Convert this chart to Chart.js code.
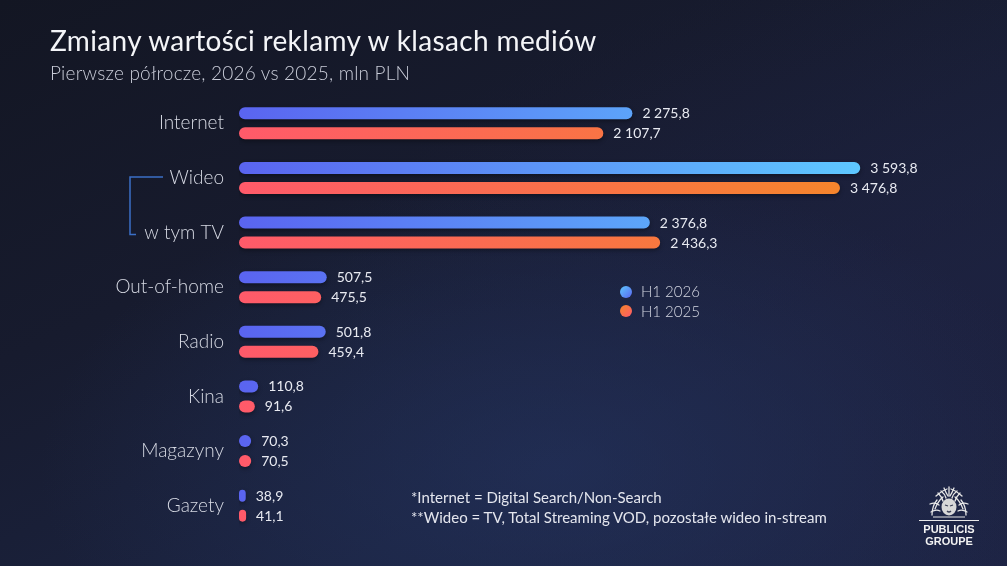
<!DOCTYPE html>
<html lang="pl">
<head>
<meta charset="utf-8">
<title>Zmiany wartości reklamy w klasach mediów</title>
<script src="https://cdn.jsdelivr.net/npm/chart.js@4.4.1/dist/chart.umd.min.js"></script>
<style>
  html, body { margin: 0; padding: 0; }
  body {
    width: 1007px; height: 566px; overflow: hidden; position: relative;
    font-family: Lato, "Open Sans", sans-serif;
    background:
      radial-gradient(ellipse 520px 300px at 560px 470px, rgba(36,52,96,0.6), rgba(36,52,96,0) 100%),
      radial-gradient(ellipse 600px 360px at 930px 330px, rgba(30,32,62,0.6), rgba(30,32,62,0) 100%),
      linear-gradient(155deg, #131623 0%, #171b2e 35%, #1b2340 70%, #1d2444 100%);
  }
  #wrap { position: absolute; left: 0; top: 0; width: 1007px; height: 566px; }
  .title { position: absolute; left: 50px; top: 23px; font-size: 28px; color: #f4f5f8; font-weight: 400; letter-spacing: 0.35px; }
  .subtitle { position: absolute; left: 50px; top: 61px; font-size: 19px; color: #c9ccd8; font-weight: 300; letter-spacing: 0.2px; }
  .legend { position: absolute; left: 620px; top: 282px; font-size: 15px; color: #d4d7e2; line-height: 19.5px; font-weight: 300; }
  .legend div { display: flex; align-items: center; }
  .legend span.dot { width: 12px; height: 12px; border-radius: 50%; margin-right: 9px; display: inline-block; }
  .notes { position: absolute; left: 411px; top: 487px; font-size: 15px; color: #e4e6ee; line-height: 20px; }
  .logo { position: absolute; left: 916px; top: 486px; width: 66px; text-align: center; color: #f2f2f2;
          font-family: "Liberation Sans", Arial, sans-serif; font-weight: bold; font-size: 11px; line-height: 12px; }
  .logo .rule { height: 1px; background: #e8e8e8; margin: 0 3px 2px 3px; }
</style>
</head>
<body>
<div id="wrap"><canvas id="chart" width="1007" height="566"></canvas></div>
<div class="title">Zmiany wartości reklamy w klasach mediów</div>
<div class="subtitle">Pierwsze półrocze, 2026 vs 2025, mln PLN</div>
<div class="legend">
  <div><span class="dot" style="background:linear-gradient(135deg,#5ec8ff,#5a66f0)"></span>H1 2026</div>
  <div><span class="dot" style="background:linear-gradient(135deg,#f5862a,#ff5a6a)"></span>H1 2025</div>
</div>
<div class="notes">
  <div>*Internet = Digital Search/Non-Search</div>
  <div>**Wideo = TV, Total Streaming VOD, pozostałe wideo in-stream</div>
</div>
<div class="logo">
  <svg width="42" height="32" viewBox="-21 -20 42 32">
    <g stroke="#e6e6e6" stroke-width="1.3" fill="none" stroke-linecap="round">
      <path d="M-17 9 Q-17 0 -12 -6"/><path d="M-13 -10 Q-8 -15 -2 -17"/><path d="M2 -17 Q8 -15 13 -10"/>
      <path d="M12 -6 Q17 0 17 9"/><path d="M-14 3 Q-11 -5 -6 -9"/><path d="M6 -9 Q11 -5 14 3"/>
      <path d="M-8 -15 Q-4 -12 -3 -8"/><path d="M8 -15 Q4 -12 3 -8"/><path d="M-19 -2 Q-14 -4 -10 -1"/>
      <path d="M19 -2 Q14 -4 10 -1"/><path d="M0 -19 L0 -10"/><path d="M-5 -18 Q-3 -13 -1 -10"/>
      <path d="M5 -18 Q3 -13 1 -10"/><path d="M-18 6 Q-13 3 -9 5"/><path d="M18 6 Q13 3 9 5"/>
      <path d="M-11 -13 Q-7 -9 -6 -5"/><path d="M11 -13 Q7 -9 6 -5"/>
    </g>
    <ellipse cx="0" cy="1" rx="7.5" ry="8.5" fill="#d8d8d8"/>
    <path d="M-4 -1 L-1 0 M4 -1 L1 0 M-2 5 Q0 7 2 5" stroke="#3a3f55" stroke-width="1.3" fill="none"/>
    <path d="M-16 11 L16 11" stroke="#e6e6e6" stroke-width="1"/>
  </svg>
  <div class="rule"></div>
  <div>PUBLICIS</div>
  <div>GROUPE</div>
</div>

<script>
// kategorie i wartości (mln PLN)
const categories = ['Internet', 'Wideo', 'w tym TV', 'Out-of-home', 'Radio', 'Kina', 'Magazyny', 'Gazety'];
const h1_2026 = [2275.8, 3593.8, 2376.8, 507.5, 501.8, 110.8, 70.3, 38.9];
const h1_2025 = [2107.7, 3476.8, 2436.3, 475.5, 459.4, 91.6, 70.5, 41.1];
const seriesLabels = ['H1 2026', 'H1 2025'];

const blueStops = ['#5a64f0', '#5ec8ff'];
const redStops = ['#ff5a6a', '#f5862a'];

// format "2 275,8"
function fmt(v) {
  const parts = v.toFixed(1).split('.');
  const int = parts[0].replace(/\B(?=(\d{3})+(?!\d))/g, ' ');
  return int + ',' + parts[1];
}

function barGradient(stops) {
  return (context) => {
    const chart = context.chart;
    const { ctx, chartArea, scales } = chart;
    if (!chartArea) return stops[0];
    const x0 = scales.x.getPixelForValue(0);
    const x1 = scales.x.getPixelForValue(3600);
    const g = ctx.createLinearGradient(x0, 0, x1, 0);
    g.addColorStop(0, stops[0]);
    g.addColorStop(1, stops[1]);
    return g;
  };
}

// etykiety wartości przy końcach słupków
const valueLabels = {
  id: 'valueLabels',
  afterDatasetsDraw(chart) {
    const ctx = chart.ctx;
    ctx.save();
    ctx.font = '400 14px Lato, sans-serif';
    ctx.fillStyle = '#e8eaf1';
    ctx.textBaseline = 'middle';
    ctx.textAlign = 'left';
    chart.data.datasets.forEach((ds, i) => {
      chart.getDatasetMeta(i).data.forEach((bar, j) => {
        ctx.fillText(fmt(ds.data[j]), bar.x + 10, bar.y + 0.5);
      });
    });
    ctx.restore();
  }
};

// klamra łącząca Wideo i "w tym TV"
const bracket = {
  id: 'bracket',
  afterDraw(chart) {
    const { ctx, chartArea, scales } = chart;
    const yTop = scales.y.getPixelForValue(1) - 1;
    const yBot = scales.y.getPixelForValue(2) + 2;
    const xv = chartArea.left - 109;
    ctx.save();
    ctx.strokeStyle = '#3b6fc6';
    ctx.lineWidth = 1.5;
    ctx.beginPath();
    ctx.moveTo(xv + 33, yTop);
    ctx.lineTo(xv, yTop);
    ctx.lineTo(xv, yBot);
    ctx.lineTo(xv + 6, yBot);
    ctx.stroke();
    ctx.restore();
  }
};

// lekki cień pod słupkami
const barShadow = {
  id: 'barShadow',
  beforeDatasetsDraw(chart) {
    chart.ctx.save();
    chart.ctx.shadowColor = 'rgba(0,0,0,0.35)';
    chart.ctx.shadowBlur = 4;
    chart.ctx.shadowOffsetY = 2;
  },
  afterDatasetsDraw(chart) {
    chart.ctx.restore();
  }
};

const ctx = document.getElementById('chart').getContext('2d');
new Chart(ctx, {
  type: 'bar',
  data: {
    labels: categories,
    datasets: [
      {
        label: seriesLabels[0],
        data: h1_2026,
        backgroundColor: barGradient(blueStops),
        borderRadius: 6,
        borderSkipped: false
      },
      {
        label: seriesLabels[1],
        data: h1_2025,
        backgroundColor: barGradient(redStops),
        borderRadius: 6,
        borderSkipped: false
      }
    ]
  },
  options: {
    indexAxis: 'y',
    responsive: false,
    animation: false,
    events: [],
    layout: { padding: { left: 0, right: 42, top: 96, bottom: 33 } },
    datasets: { bar: { categoryPercentage: 0.73, barPercentage: 0.6 } },
    plugins: {
      legend: { display: false },
      tooltip: { enabled: false },
      title: { display: false }
    },
    scales: {
      x: { display: false, min: 0, max: 4200 },
      y: {
        grid: { display: false, drawTicks: false },
        border: { display: false },
        afterFit(scale) { scale.width = 239; },
        ticks: {
          color: '#d6d9e3',
          padding: 15,
          font: { family: 'Lato, sans-serif', size: 19, weight: '300' }
        }
      }
    }
  },
  plugins: [barShadow, valueLabels, bracket]
});
</script>
</body>
</html>
